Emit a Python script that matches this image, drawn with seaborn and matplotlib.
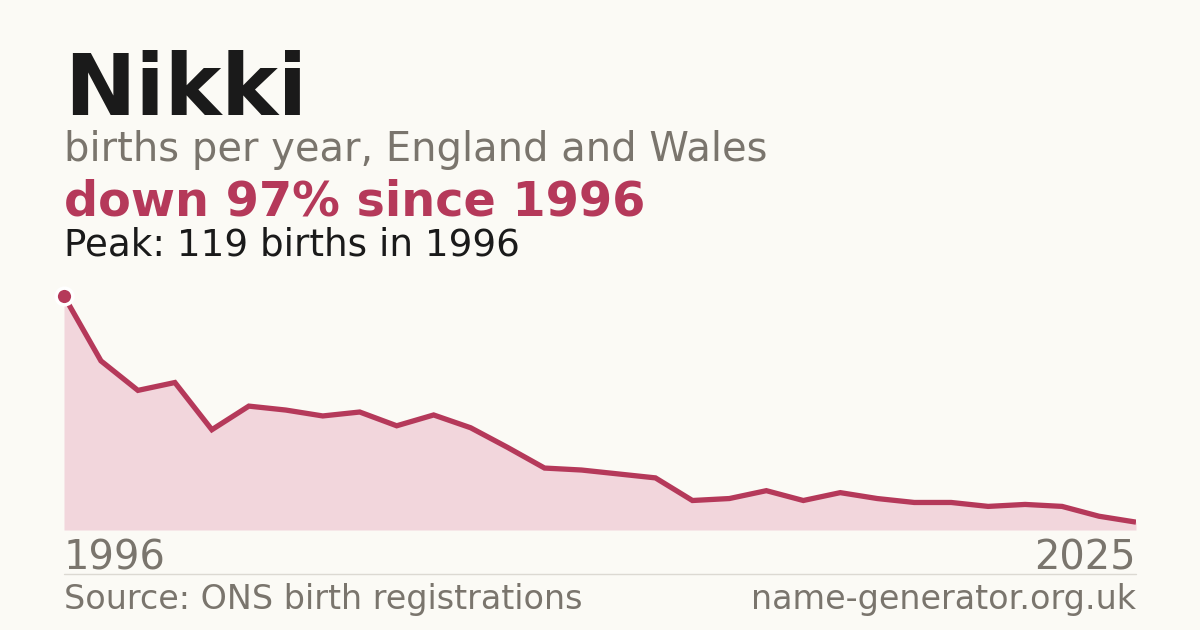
import pandas as pd
import seaborn as sns
import matplotlib.pyplot as plt
from matplotlib.lines import Line2D

# births per year for the name
years = list(range(1996, 2026))
births = [119, 86, 71, 75, 51, 63, 61, 58, 60, 53,
          58.5, 52, 42, 31.5, 30.5, 28.5, 26.5, 15, 16, 20,
          15, 19, 16, 14, 14, 12, 13, 12, 7, 4]

name = "Nikki"
subtitle = "births per year, England and Wales"
headline = "down 97% since 1996"
peak_note = "Peak: 119 births in 1996"
source = "Source: ONS birth registrations"
site = "name-generator.org.uk"

bg = "#fbfaf5"
red = "#b5395a"
fill = "#f2d6dc"
grey = "#7a756d"

df = pd.DataFrame({"year": years, "births": births})

sns.set_theme(style="white")
plt.rcParams["font.family"] = ["DejaVu Sans"]

W, H = 1200, 630
fig = plt.figure(figsize=(12, 6.3), dpi=100, facecolor=bg)

def fy(px):
    return 1 - px / H

ax = fig.add_axes([64 / W, fy(530), (1136 - 64) / W, (530 - 296) / H])
ax.set_facecolor(bg)
ax.fill_between(df["year"], df["births"], 0, color=fill, lw=0)
sns.lineplot(data=df, x="year", y="births", ax=ax, color=red, lw=3.8,
             solid_joinstyle="miter", solid_capstyle="butt")
peak = df.loc[df["births"].idxmax()]
ax.plot([peak["year"]], [peak["births"]], "o", ms=12, color=red,
        mec="white", mew=2.5, clip_on=False, zorder=5)
ax.set_xlim(years[0], years[-1])
ax.set_ylim(0, max(births))
ax.axis("off")

fig.text(64 / W, fy(115), name, fontsize=61.5, fontweight="bold",
         color="#1a1a1a", va="baseline")
fig.text(64 / W, fy(161), subtitle, fontsize=28.8, color=grey, va="baseline")
fig.text(64 / W, fy(215), headline, fontsize=34.4, fontweight="bold",
         color=red, va="baseline")
fig.text(64 / W, fy(255), peak_note, fontsize=26.8, color="#1a1a1a",
         va="baseline")

fig.text(64 / W, fy(570), str(years[0]), fontsize=28.8, color=grey,
         va="baseline")
fig.text(1136 / W, fy(570), str(years[-1]), fontsize=28.8, color=grey,
         va="baseline", ha="right")

fig.add_artist(Line2D([64 / W, 1136 / W], [fy(574), fy(574)],
                      color="#dcd9d2", lw=1))

fig.text(64 / W, fy(609), source, fontsize=24, color=grey, va="baseline")
fig.text(1136 / W, fy(609), site, fontsize=24, color=grey, va="baseline",
         ha="right")

fig.savefig("out.png", dpi=100, facecolor=bg)
